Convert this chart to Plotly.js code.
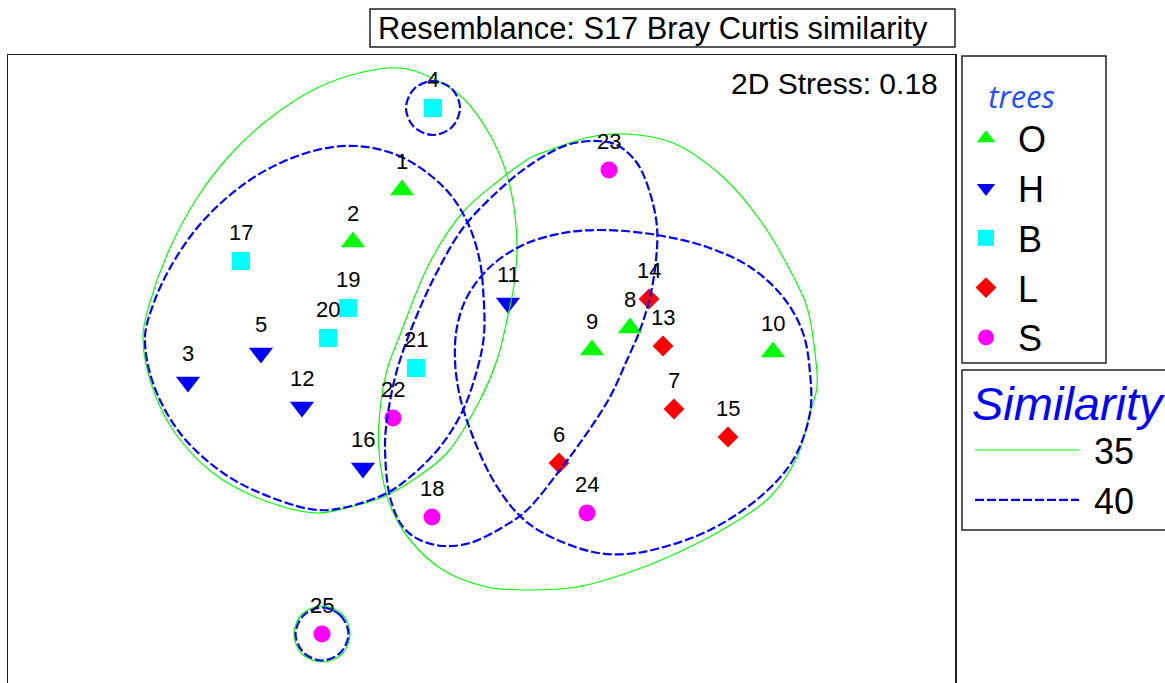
<!DOCTYPE html>
<html><head><meta charset="utf-8">
<script src="https://cdn.plot.ly/plotly-3.0.1.min.js"></script>
<style>html,body{margin:0;padding:0;overflow:hidden;background:#fff}#chart{width:1165px;height:683px}</style>
</head><body><div id="chart"></div><script>
// ---- nMDS sample coordinates, by factor level "trees" ----
const groupNames = ['O', 'H', 'B', 'L', 'S'];
const O_labels = ['1', '2', '8', '9', '10'];
const O_x = [-0.78, -1.27, 1.50, 1.12, 2.93];
const O_y = [1.70, 1.18, 0.32, 0.10, 0.08];
const H_labels = ['3', '5', '11', '12', '16'];
const H_x = [-2.92, -2.19, 0.28, -1.78, -1.17];
const H_y = [-0.22, 0.07, 0.57, -0.47, -1.08];
const B_labels = ['4', '17', '19', '20', '21'];
const B_x = [-0.47, -2.39, -1.32, -1.52, -0.64];
const B_y = [2.52, 0.99, 0.52, 0.22, -0.08];
const L_labels = ['6', '7', '13', '14', '15'];
const L_x = [0.79, 1.94, 1.83, 1.69, 2.48];
const L_y = [-1.03, -0.49, 0.14, 0.61, -0.77];
const S_labels = ['18', '22', '23', '24', '25'];
const S_x = [-0.48, -0.87, 1.29, 1.07, -1.58];
const S_y = [-1.57, -0.58, 1.90, -1.53, -2.74];

// ---- similarity contours ----
const simLevels = ['35', '40'];
// level 35
const c35a_x = [-0.80,-0.50,-0.17,0.10,0.27,0.35,0.37,0.34,0.27,0.17,0.00,-0.33,-0.67,-0.97,-1.30,-1.63,-2.17,-2.67,-3.07,-3.30,-3.37,-3.30,-3.10,-2.83,-2.50,-2.10,-1.63,-1.17];
const c35a_y = [2.92,2.83,2.62,2.25,1.85,1.45,1.10,0.75,0.40,0.00,-0.40,-0.93,-1.20,-1.37,-1.47,-1.53,-1.40,-1.13,-0.70,-0.20,0.25,0.58,1.12,1.62,2.05,2.42,2.72,2.88];
const c35b_x = [1.47,1.93,2.43,2.80,3.10,3.27,3.35,3.37,3.30,3.17,2.90,2.47,1.97,1.47,0.97,0.47,0.07,-0.37,-0.70,-0.88,-0.97,-1.015,-1.00,-0.93,-0.80,-0.50,-0.17,0.17,0.50,0.70,1.10];
const c35b_y = [2.26,2.17,1.83,1.40,0.90,0.53,0.07,-0.27,-0.53,-0.97,-1.37,-1.67,-1.93,-2.13,-2.27,-2.30,-2.27,-2.10,-1.80,-1.50,-1.20,-0.85,-0.50,-0.10,0.25,0.98,1.48,1.78,2.02,2.10,2.23];
const c35c_x = [-1.58,-1.38,-1.30,-1.38,-1.58,-1.78,-1.86,-1.78];
const c35c_y = [-2.46,-2.54,-2.74,-2.94,-3.02,-2.94,-2.74,-2.54];
// level 40
const c40a_x = [-1.23,-0.83,-0.50,-0.27,-0.10,0.00,0.03,0.04,-0.03,-0.17,-0.40,-0.70,-0.93,-1.33,-1.63,-2.10,-2.57,-3.00,-3.27,-3.35,-3.27,-3.10,-2.83,-2.50,-2.10,-1.63];
const c40a_y = [2.14,2.05,1.85,1.62,1.32,0.98,0.72,0.25,-0.10,-0.50,-0.87,-1.17,-1.33,-1.47,-1.50,-1.37,-1.13,-0.73,-0.23,0.23,0.55,0.92,1.32,1.65,1.92,2.10];
const c40b_x = [1.17,1.37,1.57,1.70,1.77,1.76,1.70,1.60,1.47,1.30,1.07,0.80,0.47,0.23,-0.10,-0.37,-0.60,-0.77,-0.90,-0.95,-0.93,-0.83,-0.63,-0.43,-0.17,0.17,0.50,0.87];
const c40b_y = [2.19,2.15,1.97,1.67,1.33,1.00,0.63,0.30,0.00,-0.37,-0.73,-1.10,-1.50,-1.67,-1.83,-1.86,-1.80,-1.67,-1.37,-0.87,-0.60,-0.10,0.45,0.88,1.32,1.68,1.95,2.15];
const c40c_x = [1.23,1.77,2.27,2.70,3.03,3.23,3.30,3.30,3.13,2.80,2.30,1.80,1.47,1.13,0.63,0.37,0.13,-0.07,-0.20,-0.25,-0.23,-0.13,0.10,0.43,0.83];
const c40c_y = [1.30,1.25,1.13,0.93,0.63,0.27,-0.13,-0.53,-1.00,-1.37,-1.70,-1.88,-1.94,-1.92,-1.73,-1.53,-1.20,-0.77,-0.37,0.00,0.33,0.63,0.93,1.15,1.27];
const c40d_x = [-0.47,-0.28,-0.20,-0.28,-0.47,-0.66,-0.74,-0.66];
const c40d_y = [2.79,2.71,2.52,2.33,2.25,2.33,2.52,2.71];
const c40e_x = [-1.58,-1.395,-1.315,-1.395,-1.58,-1.765,-1.845,-1.765];
const c40e_y = [-2.475,-2.555,-2.74,-2.925,-3.005,-2.925,-2.74,-2.555];

const titleText = 'Resemblance: S17 Bray Curtis similarity';
const stressText = '2D Stress: 0.18';
const legendTitle1 = 'trees';
const legendTitle2 = 'Similarity';

// ---- build ----
const groupData = {
  O: {lab: O_labels, x: O_x, y: O_y},
  H: {lab: H_labels, x: H_x, y: H_y},
  B: {lab: B_labels, x: B_x, y: B_y},
  L: {lab: L_labels, x: L_x, y: L_y},
  S: {lab: S_labels, x: S_x, y: S_y}
};
const groupStyle = {
  O: {symbol: 'triangle-up', color: '#00ff00', size: 21},
  H: {symbol: 'triangle-down', color: '#0000ff', size: 21},
  B: {symbol: 'square', color: '#00ffff', size: 18},
  L: {symbol: 'diamond', color: '#ff0000', size: 16},
  S: {symbol: 'circle', color: '#ff00ff', size: 17}
};
const ARIAL = 'Liberation Sans, Arial, sans-serif';
const NB = '\u00a0';
const traces = [];
const annotations = [];
groupNames.forEach(g => {
  const d = groupData[g], s = groupStyle[g];
  traces.push({
    type: 'scatter', mode: 'markers', name: g, x: d.x, y: d.y, text: d.lab,
    legend: 'legend',
    marker: {symbol: s.symbol, color: s.color, size: s.size, line: {width: 0}},
    hoverinfo: 'text+name'
  });
  d.lab.forEach((t, i) => annotations.push({
    x: d.x[i], y: d.y[i], xref: 'x', yref: 'y', text: t, showarrow: false,
    yshift: 29, font: {family: ARIAL, size: 22, color: '#000'}
  }));
});
function closed(xs, ys) { return [xs.concat([xs[0]]), ys.concat([ys[0]])]; }
function joinLoops(loops) {
  let X = [], Y = [];
  loops.forEach((l, i) => {
    const c = closed(l[0], l[1]);
    if (i > 0) { X.push(null); Y.push(null); }
    X = X.concat(c[0]); Y = Y.concat(c[1]);
  });
  return [X, Y];
}
const l35 = joinLoops([[c35a_x, c35a_y], [c35b_x, c35b_y], [c35c_x, c35c_y]]);
const l40 = joinLoops([[c40a_x, c40a_y], [c40b_x, c40b_y], [c40c_x, c40c_y], [c40d_x, c40d_y], [c40e_x, c40e_y]]);
traces.push({
  type: 'scatter', mode: 'lines', name: NB + simLevels[0], x: l35[0], y: l35[1], legend: 'legend2',
  line: {color: '#00ff00', width: 1.2, shape: 'spline', smoothing: 1}, connectgaps: false, hoverinfo: 'name'
});
traces.push({
  type: 'scatter', mode: 'lines', name: NB + simLevels[1], x: l40[0], y: l40[1], legend: 'legend2',
  line: {color: '#0000ff', width: 2.2, dash: '9px,3px', shape: 'spline', smoothing: 1}, connectgaps: false, hoverinfo: 'name'
});

// pixel -> paper helpers for the decorative frames (plot area: x 8..955, y 55..683)
const px = v => (v - 8) / 947;
const py = v => (683 - v) / 628;

annotations.push({
  xref: 'paper', yref: 'paper', x: px(376), y: py(28), xanchor: 'left', yanchor: 'middle',
  text: titleText, showarrow: false, font: {family: ARIAL, size: 30.8, color: '#000'}
});
annotations.push({
  xref: 'paper', yref: 'paper', x: px(940), y: py(83), xanchor: 'right', yanchor: 'middle',
  text: stressText, showarrow: false, font: {family: ARIAL, size: 30, color: '#000'}
});

const boxLine = {color: '#222', width: 1.5};
const shapes = [
  {type: 'rect', xref: 'paper', yref: 'paper', x0: px(370), x1: px(955), y0: py(47), y1: py(9), line: boxLine},
  {type: 'rect', xref: 'paper', yref: 'paper', x0: px(962), x1: px(1106), y0: py(363), y1: py(56), line: boxLine},
  {type: 'rect', xref: 'paper', yref: 'paper', x0: px(962), x1: px(1180), y0: py(530), y1: py(370), line: boxLine}
];

const layout = {
  width: 1165, height: 683,
  margin: {l: 8, r: 210, t: 55, b: 0, autoexpand: false},
  paper_bgcolor: '#fff', plot_bgcolor: '#fff',
  showlegend: true,
  xaxis: {range: [-4.72, 4.75], side: 'top', showline: true, linecolor: '#222', linewidth: 1.5, mirror: false,
          showgrid: false, zeroline: false, showticklabels: false, ticks: '', fixedrange: true},
  yaxis: {range: [-3.23, 3.05], showline: true, linecolor: '#222', linewidth: 1.5, mirror: true,
          showgrid: false, zeroline: false, showticklabels: false, ticks: '', fixedrange: true},
  legend: {
    x: px(954), y: py(68), xanchor: 'left', yanchor: 'top', itemwidth: 54,
    bgcolor: 'rgba(0,0,0,0)', borderwidth: 0, tracegroupgap: 0,
    font: {family: ARIAL, size: 36, color: '#000'},
    title: {text: NB + NB + NB + NB + legendTitle1, font: {family: 'Open Sans, sans-serif', size: 31, color: '#1f4fff', style: 'italic'}}
  },
  legend2: {
    x: px(970), y: py(359), xanchor: 'left', yanchor: 'top', itemwidth: 104,
    bgcolor: 'rgba(0,0,0,0)', borderwidth: 0, tracegroupgap: 0,
    font: {family: ARIAL, size: 36, color: '#000'},
    title: {text: legendTitle2, font: {family: ARIAL, size: 47, color: '#0000ff', style: 'italic'}}
  },
  annotations: annotations,
  shapes: shapes
};
Plotly.newPlot('chart', traces, layout, {displayModeBar: false, staticPlot: true});
</script></body></html>
